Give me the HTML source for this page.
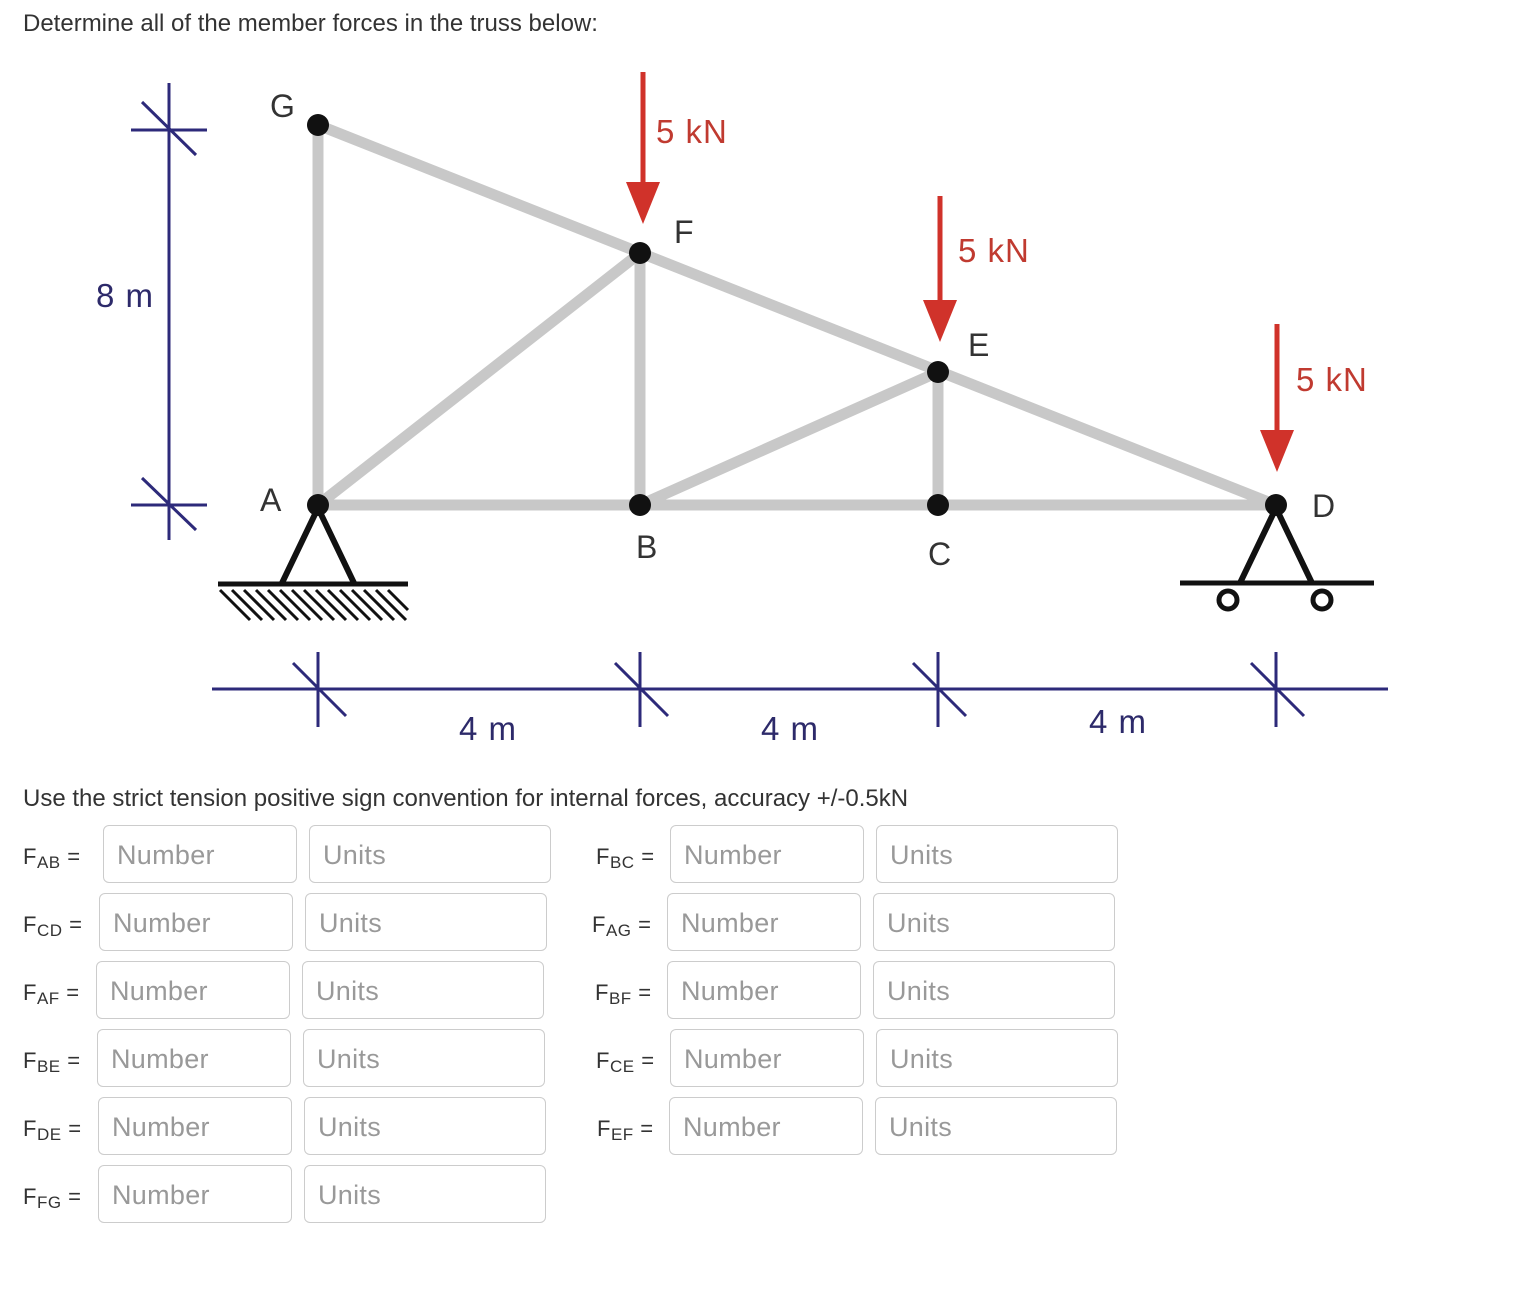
<!DOCTYPE html>
<html><head><meta charset="utf-8"><style>
body{margin:0;width:1522px;height:1290px;background:#fff;position:relative;font-family:"Liberation Sans",Arial,sans-serif;color:#333;overflow:hidden}
.t{position:absolute;font-size:24px;white-space:nowrap}
.b{position:absolute;border:1px solid #ccc;border-radius:6px;box-sizing:border-box;height:58px;font-size:27px;color:#999;padding-left:13px;line-height:58px;letter-spacing:0.3px}
.l{position:absolute;font-size:22px;white-space:nowrap;letter-spacing:0.5px}
.l sub{font-size:17px;vertical-align:-4px}
</style></head><body>
<div class="t" style="left:23px;top:10px">Determine all of the member forces in the truss below:</div>
<svg width="1522" height="780" style="position:absolute;left:0;top:0" font-family="Liberation Sans, Arial, sans-serif">
<g stroke="#c8c8c8" stroke-width="11" stroke-linecap="round">
<line x1="318" y1="505" x2="318" y2="125"/><line x1="318" y1="125" x2="1276" y2="505"/>
<line x1="318" y1="505" x2="1276" y2="505"/><line x1="318" y1="505" x2="640" y2="253"/>
<line x1="640" y1="253" x2="640" y2="505"/><line x1="640" y1="505" x2="938" y2="372"/>
<line x1="938" y1="372" x2="938" y2="505"/>
</g>
<g stroke="#111" stroke-width="6" fill="none">
<polyline points="282,583 318,508 354,583"/>
<line x1="218" y1="584" x2="408" y2="584" stroke-width="5"/>
<polyline points="1240,583 1276,508 1312,583"/>
<line x1="1180" y1="583" x2="1374" y2="583" stroke-width="5"/>
<circle cx="1228" cy="600" r="9" stroke-width="5"/><circle cx="1322" cy="600" r="9" stroke-width="5"/>
</g>
<g stroke="#111" stroke-width="3">
<line x1="220" y1="590" x2="250" y2="620"/><line x1="232" y1="590" x2="262" y2="620"/><line x1="244" y1="590" x2="274" y2="620"/><line x1="256" y1="590" x2="286" y2="620"/><line x1="268" y1="590" x2="298" y2="620"/><line x1="280" y1="590" x2="310" y2="620"/><line x1="292" y1="590" x2="322" y2="620"/><line x1="304" y1="590" x2="334" y2="620"/><line x1="316" y1="590" x2="346" y2="620"/><line x1="328" y1="590" x2="358" y2="620"/><line x1="340" y1="590" x2="370" y2="620"/><line x1="352" y1="590" x2="382" y2="620"/><line x1="364" y1="590" x2="394" y2="620"/><line x1="376" y1="590" x2="406" y2="620"/><line x1="388" y1="590" x2="408" y2="610"/>
</g>
<g fill="#111">
<circle cx="318" cy="125" r="11"/><circle cx="640" cy="253" r="11"/><circle cx="938" cy="372" r="11"/>
<circle cx="318" cy="505" r="11"/><circle cx="640" cy="505" r="11"/><circle cx="938" cy="505" r="11"/><circle cx="1276" cy="505" r="11"/>
</g>
<g stroke="#2d2a7a" stroke-width="3">
<line x1="169" y1="83" x2="169" y2="540"/>
<line x1="131" y1="130" x2="207" y2="130"/><line x1="142" y1="102" x2="196" y2="155"/>
<line x1="131" y1="505" x2="207" y2="505"/><line x1="142" y1="478" x2="196" y2="530"/>
<line x1="212" y1="689" x2="1388" y2="689"/>
<line x1="318" y1="652" x2="318" y2="727"/><line x1="293" y1="663" x2="346" y2="716"/>
<line x1="640" y1="652" x2="640" y2="727"/><line x1="615" y1="663" x2="668" y2="716"/>
<line x1="938" y1="652" x2="938" y2="727"/><line x1="913" y1="663" x2="966" y2="716"/>
<line x1="1276" y1="652" x2="1276" y2="727"/><line x1="1251" y1="663" x2="1304" y2="716"/>
</g>
<g fill="#d0322a" stroke="#d0322a">
<line x1="643" y1="72" x2="643" y2="190" stroke-width="5"/><polygon points="626,182 660,182 643,224" stroke="none"/>
<line x1="940" y1="196" x2="940" y2="308" stroke-width="5"/><polygon points="923,300 957,300 940,342" stroke="none"/>
<line x1="1277" y1="324" x2="1277" y2="438" stroke-width="5"/><polygon points="1260,430 1294,430 1277,472" stroke="none"/>
</g>
<g fill="#c03a30" font-size="33" letter-spacing="1">
<text x="656" y="143">5 kN</text><text x="958" y="262">5 kN</text><text x="1296" y="391">5 kN</text>
</g>
<g fill="#333" font-size="32">
<text x="270" y="117">G</text><text x="674" y="243">F</text><text x="968" y="356">E</text>
<text x="260" y="511">A</text><text x="636" y="558">B</text><text x="928" y="565">C</text><text x="1312" y="517">D</text>
</g>
<g fill="#2d2a6a" font-size="33" letter-spacing="1">
<text x="96" y="307">8 m</text><text x="459" y="740">4 m</text><text x="761" y="740">4 m</text><text x="1089" y="733">4 m</text>
</g>
</svg>
<div class="t" style="left:23px;top:785px">Use the strict tension positive sign convention for internal forces, accuracy +/-0.5kN</div>

<div class="l" style="left:23px;top:844px">F<sub>AB</sub> =</div><div class="b" style="left:103px;top:825px;width:194px">Number</div><div class="b" style="left:309px;top:825px;width:242px">Units</div>
<div class="l" style="left:23px;top:912px">F<sub>CD</sub> =</div><div class="b" style="left:99px;top:893px;width:194px">Number</div><div class="b" style="left:305px;top:893px;width:242px">Units</div>
<div class="l" style="left:23px;top:980px">F<sub>AF</sub> =</div><div class="b" style="left:96px;top:961px;width:194px">Number</div><div class="b" style="left:302px;top:961px;width:242px">Units</div>
<div class="l" style="left:23px;top:1048px">F<sub>BE</sub> =</div><div class="b" style="left:97px;top:1029px;width:194px">Number</div><div class="b" style="left:303px;top:1029px;width:242px">Units</div>
<div class="l" style="left:23px;top:1116px">F<sub>DE</sub> =</div><div class="b" style="left:98px;top:1097px;width:194px">Number</div><div class="b" style="left:304px;top:1097px;width:242px">Units</div>
<div class="l" style="left:23px;top:1184px">F<sub>FG</sub> =</div><div class="b" style="left:98px;top:1165px;width:194px">Number</div><div class="b" style="left:304px;top:1165px;width:242px">Units</div>

<div class="l" style="left:596px;top:844px">F<sub>BC</sub> =</div><div class="b" style="left:670px;top:825px;width:194px">Number</div><div class="b" style="left:876px;top:825px;width:242px">Units</div>
<div class="l" style="left:592px;top:912px">F<sub>AG</sub> =</div><div class="b" style="left:667px;top:893px;width:194px">Number</div><div class="b" style="left:873px;top:893px;width:242px">Units</div>
<div class="l" style="left:595px;top:980px">F<sub>BF</sub> =</div><div class="b" style="left:667px;top:961px;width:194px">Number</div><div class="b" style="left:873px;top:961px;width:242px">Units</div>
<div class="l" style="left:596px;top:1048px">F<sub>CE</sub> =</div><div class="b" style="left:670px;top:1029px;width:194px">Number</div><div class="b" style="left:876px;top:1029px;width:242px">Units</div>
<div class="l" style="left:597px;top:1116px">F<sub>EF</sub> =</div><div class="b" style="left:669px;top:1097px;width:194px">Number</div><div class="b" style="left:875px;top:1097px;width:242px">Units</div>
</body></html>
